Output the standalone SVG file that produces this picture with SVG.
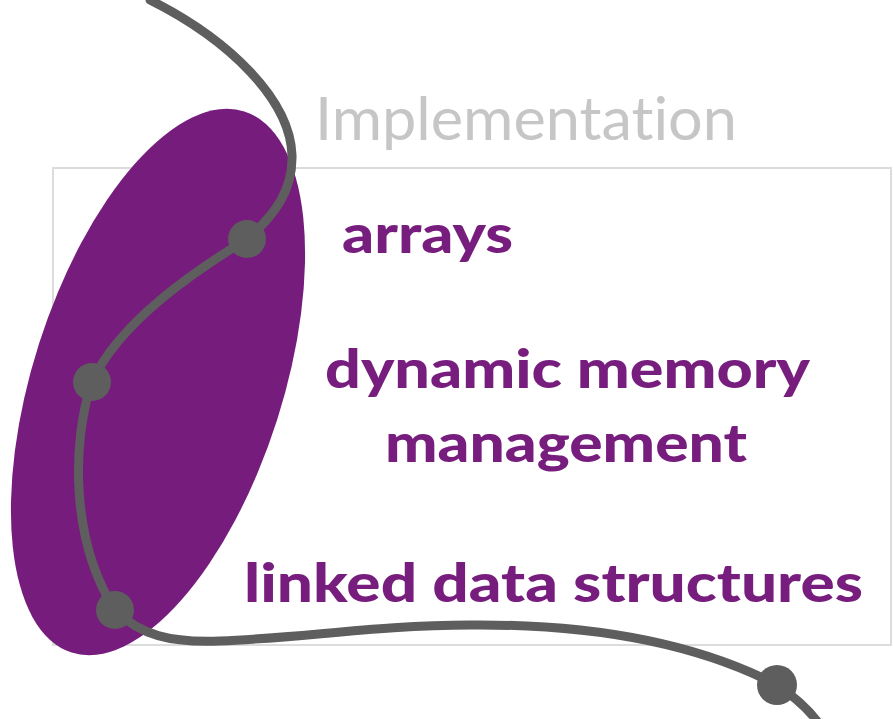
<svg xmlns="http://www.w3.org/2000/svg" width="893" height="719" viewBox="0 0 893 719">
<style>
text{font-variant-ligatures:none;font-feature-settings:"liga" 0}
.item{font-family:Lato,"Liberation Sans",sans-serif;font-weight:900;font-size:54px;fill:#771d7e}
.title{font-family:Lato,"Liberation Sans",sans-serif;font-weight:400;font-size:60px;fill:#c6c6c6}
.wire{fill:none;stroke:#5e5e5e;stroke-width:9;stroke-linecap:round}
.dot{fill:#5e5e5e}
</style>
<rect width="893" height="719" fill="#ffffff"/>
<g id="frame"><rect x="53" y="168" width="838" height="477" fill="none" stroke="#dcdcdc" stroke-width="2"/></g>
<g id="blob"><ellipse cx="158" cy="382" rx="125" ry="284" transform="rotate(17.7 158 382)" fill="#761c7c"/></g>
<g id="title"><text class="title" x="315" y="140" textLength="422" lengthAdjust="spacingAndGlyphs">Implementation</text></g>
<g id="arrays"><text class="item" x="342" y="253" textLength="171" lengthAdjust="spacingAndGlyphs">arrays</text></g>
<g id="dmm"><text class="item" x="325" y="388" textLength="485" lengthAdjust="spacingAndGlyphs">dynamic memory</text>
<text class="item" x="385" y="462" textLength="362" lengthAdjust="spacingAndGlyphs">management</text></g>
<g id="linked"><text class="item" x="244" y="602" textLength="619" lengthAdjust="spacingAndGlyphs">linked data structures</text></g>
<g id="connectors">
<path class="wire" d="M150,0 C230,40 290,100 292,155 C293,190 275,215 247,239 C200,268 120,320 92,382 C72,440 70,540 115,610 C140,635 170,643 220,641 C300,638 380,625 470,625 C580,624 690,640 777,685 C795,697 808,708 820,725"/>
<circle class="dot" cx="247" cy="239" r="19"/>
<circle class="dot" cx="92" cy="382" r="19"/>
<circle class="dot" cx="115" cy="610" r="19"/>
<circle class="dot" cx="777" cy="685" r="20"/>
</g>
</svg>
